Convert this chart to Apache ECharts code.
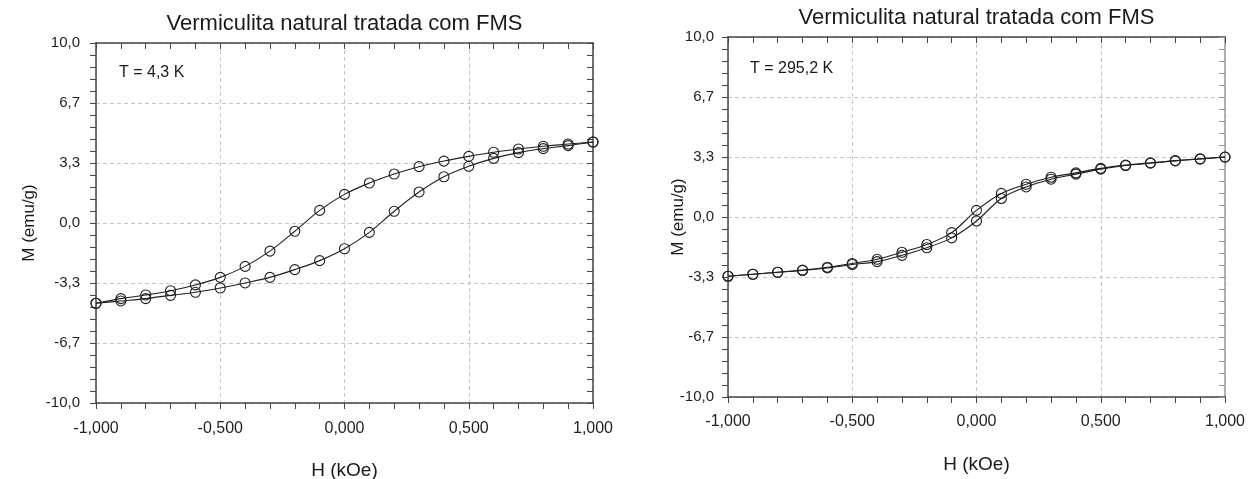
<!DOCTYPE html>
<html>
<head>
<meta charset="utf-8">
<title>Vermiculita natural tratada com FMS</title>
<script src="https://cdn.jsdelivr.net/npm/echarts@6/dist/echarts.min.js"></script>
<style>
  html, body { margin: 0; padding: 0; background: #ffffff; }
  #chart { width: 1249px; height: 479px; }
</style>
</head>
<body>
<div id="chart"></div>
<script>
// Applied field H (kOe), shared by both loops
const fieldH = [-1.0, -0.9, -0.8, -0.7, -0.6, -0.5, -0.4, -0.3, -0.2, -0.1, 0.0,
                0.1, 0.2, 0.3, 0.4, 0.5, 0.6, 0.7, 0.8, 0.9, 1.0];

// T = 4,3 K — magnetization (emu/g), descending and ascending branches
const m4kDown = [-4.46, -4.20, -4.00, -3.76, -3.44, -3.02, -2.41, -1.56, -0.46, 0.70, 1.59,
                 2.22, 2.72, 3.13, 3.44, 3.70, 3.93, 4.11, 4.26, 4.39, 4.50];
const m4kUp   = [-4.46, -4.33, -4.20, -4.02, -3.85, -3.61, -3.33, -3.02, -2.59, -2.09, -1.43,
                 -0.52, 0.65, 1.72, 2.57, 3.15, 3.59, 3.91, 4.13, 4.30, 4.50];

// T = 295,2 K — magnetization (emu/g), descending and ascending branches
const m295kDown = [-3.29, -3.18, -3.07, -2.95, -2.79, -2.58, -2.35, -1.96, -1.53, -0.87, 0.37,
                   1.31, 1.82, 2.21, 2.45, 2.70, 2.88, 3.01, 3.13, 3.23, 3.33];
const m295kUp   = [-3.29, -3.18, -3.07, -2.97, -2.83, -2.64, -2.48, -2.13, -1.71, -1.16, -0.22,
                   1.03, 1.67, 2.10, 2.38, 2.66, 2.86, 2.99, 3.12, 3.22, 3.33];

const panelTitles = ['Vermiculita natural tratada com FMS', 'Vermiculita natural tratada com FMS'];
const tempLabels = ['T = 4,3 K', 'T = 295,2 K'];
const xAxisName = 'H (kOe)';
const yAxisName = 'M (emu/g)';

const FONT = '"Liberation Sans", Arial, sans-serif';
const INK = '#1f1f1f';
const AXIS = '#444444';

function fmtComma(v, digits) {
  if (Math.abs(v) < 1e-9) v = 0;
  return v.toFixed(digits).replace('.', ',');
}

function pairs(xs, ys) {
  return xs.map((x, i) => [x, ys[i]]);
}

// panel layouts (pixel boxes)
const panels = [
  { left: 96, top: 43, width: 497, height: 360, yLabelMargin: 16, xLabelMargin: 18,
    rightAxisColor: AXIS, branches: [m4kDown, m4kUp] },
  { left: 728, top: 37, width: 497, height: 360, yLabelMargin: 14, xLabelMargin: 17,
    rightAxisColor: '#9a9a9a', branches: [m295kDown, m295kUp] }
];

const grids = [], xAxes = [], yAxes = [], series = [];

panels.forEach((p, gi) => {
  grids.push({ left: p.left, top: p.top, width: p.width, height: p.height, containLabel: false });

  const tickStyle = { color: AXIS, width: 1 };
  // bottom axis with labels
  xAxes.push({
    type: 'value', gridIndex: gi, position: 'bottom', min: -1, max: 1, interval: 0.5,
    axisLine: { show: true, onZero: false, lineStyle: { color: AXIS, width: 1.5 } },
    axisTick: { show: true, inside: false, length: 6, lineStyle: tickStyle },
    minorTick: { show: true, splitNumber: 5, length: 6, lineStyle: tickStyle },
    axisLabel: { show: true, margin: p.xLabelMargin, fontFamily: FONT, fontSize: 16, color: '#1e1e1e',
                 formatter: v => fmtComma(v, 3) },
    splitLine: { show: true, lineStyle: { color: '#c6c6c6', type: [4, 3], width: 1 } }
  });
  // top frame axis
  xAxes.push({
    type: 'value', gridIndex: gi, position: 'top', min: -1, max: 1, interval: 0.5,
    axisLine: { show: true, onZero: false, lineStyle: { color: AXIS, width: 1.5 } },
    axisTick: { show: true, inside: true, length: 6, lineStyle: tickStyle },
    minorTick: { show: true, splitNumber: 5, length: 6, lineStyle: tickStyle },
    axisLabel: { show: false },
    splitLine: { show: false }
  });
  // left axis with labels
  yAxes.push({
    type: 'value', gridIndex: gi, position: 'left', min: -10, max: 10, interval: 10 / 3,
    axisLine: { show: true, onZero: false, lineStyle: { color: AXIS, width: 1.5 } },
    axisTick: { show: true, inside: false, length: 6, lineStyle: tickStyle },
    minorTick: { show: true, splitNumber: 5, length: 6, lineStyle: tickStyle },
    axisLabel: { show: true, margin: p.yLabelMargin, fontFamily: FONT, fontSize: 15, color: '#1e1e1e',
                 formatter: v => fmtComma(v, 1) },
    splitLine: { show: true, lineStyle: { color: '#c6c6c6', type: [4, 3], width: 1 } }
  });
  // right frame axis
  const rStyle = { color: p.rightAxisColor, width: 1 };
  yAxes.push({
    type: 'value', gridIndex: gi, position: 'right', min: -10, max: 10, interval: 10 / 3,
    axisLine: { show: true, onZero: false, lineStyle: { color: p.rightAxisColor, width: 1.5 } },
    axisTick: { show: true, inside: true, length: 6, lineStyle: rStyle },
    minorTick: { show: true, splitNumber: 5, length: 6, lineStyle: rStyle },
    axisLabel: { show: false },
    splitLine: { show: false }
  });

  p.branches.forEach(branch => {
    series.push({
      type: 'line',
      xAxisIndex: gi * 2,
      yAxisIndex: gi * 2,
      data: pairs(fieldH, branch),
      smooth: 0.35,
      symbol: 'circle',
      symbolSize: 10,
      showSymbol: true,
      lineStyle: { color: INK, width: 1.1 },
      itemStyle: { color: 'rgba(0,0,0,0)', borderColor: INK, borderWidth: 1.1 },
      emphasis: { disabled: true },
      animation: false
    });
  });
});

function text(x, y, str, size, align, rotation) {
  return {
    type: 'text', x: x, y: y, rotation: rotation || 0,
    style: { text: str, font: size + 'px ' + FONT, fill: '#1a1a1a',
             align: align || 'center', verticalAlign: 'middle',
             textAlign: align || 'center', textVerticalAlign: 'middle' }
  };
}

const graphics = [
  text(344.5, 24, panelTitles[0], 22),
  text(976.5, 18, panelTitles[1], 22),
  text(29, 223, yAxisName, 17, 'center', Math.PI / 2),
  text(678, 217, yAxisName, 17, 'center', Math.PI / 2),
  text(344.5, 471, xAxisName, 19),
  text(976.5, 465, xAxisName, 19),
  text(119, 73, tempLabels[0], 16, 'left'),
  text(750, 69, tempLabels[1], 16, 'left')
];

const chart = echarts.init(document.getElementById('chart'), null, { renderer: 'canvas' });
chart.setOption({
  backgroundColor: '#ffffff',
  animation: false,
  grid: grids,
  xAxis: xAxes,
  yAxis: yAxes,
  series: series,
  graphic: graphics
});
</script>
</body>
</html>
